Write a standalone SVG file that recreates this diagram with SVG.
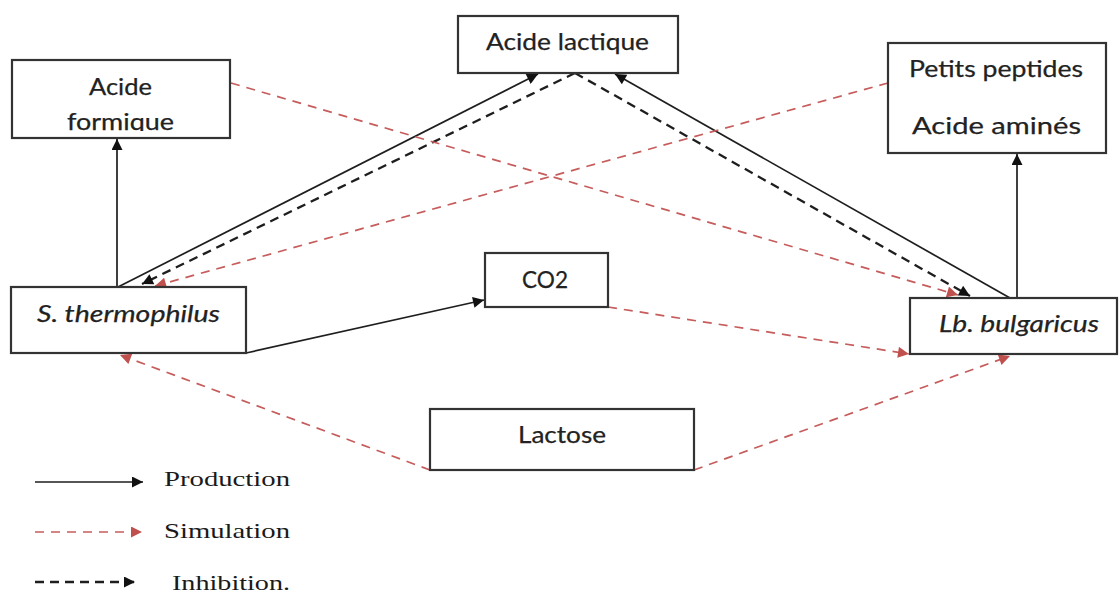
<svg xmlns="http://www.w3.org/2000/svg" width="1119" height="594" viewBox="0 0 1119 594">
<style>
.box{fill:#fff;stroke:#333;stroke-width:2.2}
.t{font-family:Lato,"Open Sans","Liberation Sans",sans-serif;font-size:23px;fill:#222;stroke:#222;stroke-width:0.25}
.it{font-style:italic}
.lg{font-family:"Liberation Serif","Times New Roman",serif;font-size:21px;fill:#1a1a1a}
.prod{stroke:#1e1e1e;stroke-width:1.7;fill:none;marker-end:url(#ab)}
.inh{stroke:#1e1e1e;stroke-width:2.3;fill:none;stroke-dasharray:9 6;marker-end:url(#ab)}
.sim{stroke:#c65c5c;stroke-width:1.7;fill:none;stroke-dasharray:9 7;marker-end:url(#ar)}
</style>
<defs>
<marker id="ab" viewBox="0 0 10 10" refX="10" refY="5" markerWidth="13" markerHeight="11" markerUnits="userSpaceOnUse" orient="auto"><path d="M0,0 L10,5 L0,10 z" fill="#111"/></marker>
<marker id="ar" viewBox="0 0 10 10" refX="10" refY="5" markerWidth="13" markerHeight="11" markerUnits="userSpaceOnUse" orient="auto"><path d="M0,0 L10,5 L0,10 z" fill="#c0504d"/></marker>
<clipPath id="cf"><rect x="12" y="60" width="218" height="71"/></clipPath>
</defs>
<g id="connectors">
<line class="prod" x1="117" y1="287" x2="117" y2="139"/>
<line class="prod" x1="118" y1="287" x2="538" y2="74"/>
<line class="inh" x1="575" y1="73" x2="142" y2="284"/>
<line class="inh" x1="575" y1="73" x2="970" y2="296"/>
<line class="prod" x1="1010" y1="298" x2="615" y2="74"/>
<line class="prod" x1="1017" y1="298" x2="1017" y2="154"/>
<line class="prod" x1="246" y1="353" x2="484" y2="300"/>
<line class="sim" x1="231" y1="83" x2="958" y2="295"/>
<line class="sim" x1="888" y1="83" x2="155" y2="286"/>
<line class="sim" x1="608" y1="307" x2="909" y2="354"/>
<line class="sim" x1="430" y1="470" x2="120" y2="355"/>
<line class="sim" x1="694" y1="470" x2="1010" y2="356"/>
</g>
<g id="acide-formique">
<rect class="box" x="12" y="60" width="218" height="78"/>
<text class="t" x="89" y="95" textLength="63" lengthAdjust="spacingAndGlyphs">Acide</text>
<text class="t" x="67" y="130" textLength="107" lengthAdjust="spacingAndGlyphs" clip-path="url(#cf)">formique</text>
</g>
<g id="acide-lactique">
<rect class="box" x="458" y="16" width="220" height="57"/>
<text class="t" x="486" y="50" textLength="163" lengthAdjust="spacingAndGlyphs">Acide lactique</text>
</g>
<g id="petits-peptides">
<rect class="box" x="888" y="43" width="218" height="110"/>
<text class="t" x="909" y="77" textLength="174" lengthAdjust="spacingAndGlyphs">Petits peptides</text>
<text class="t" x="912" y="134" textLength="169" lengthAdjust="spacingAndGlyphs">Acide aminés</text>
</g>
<g id="s-thermophilus">
<rect class="box" x="11" y="287" width="235" height="66"/>
<text class="t it" x="37" y="322" textLength="183" lengthAdjust="spacingAndGlyphs">S. thermophilus</text>
</g>
<g id="co2">
<rect class="box" x="485" y="253" width="123" height="54"/>
<text class="t" x="522" y="288" textLength="46" lengthAdjust="spacingAndGlyphs">CO2</text>
</g>
<g id="lb-bulgaricus">
<rect class="box" x="910" y="298" width="207" height="56"/>
<text class="t it" x="939" y="332" textLength="160" lengthAdjust="spacingAndGlyphs">Lb. bulgaricus</text>
</g>
<g id="lactose">
<rect class="box" x="430" y="409" width="264" height="61"/>
<text class="t" x="518" y="443" textLength="88" lengthAdjust="spacingAndGlyphs">Lactose</text>
</g>
<g id="legend">
<line class="prod" x1="35" y1="482" x2="143" y2="482"/>
<text class="lg" x="164" y="486" textLength="126" lengthAdjust="spacingAndGlyphs">Production</text>
<line class="sim" x1="35" y1="532" x2="142" y2="532"/>
<text class="lg" x="164" y="538" textLength="126" lengthAdjust="spacingAndGlyphs">Simulation</text>
<line class="inh" x1="35" y1="582" x2="135" y2="582"/>
<text class="lg" x="172" y="590" textLength="118" lengthAdjust="spacingAndGlyphs">Inhibition.</text>
</g>
</svg>
